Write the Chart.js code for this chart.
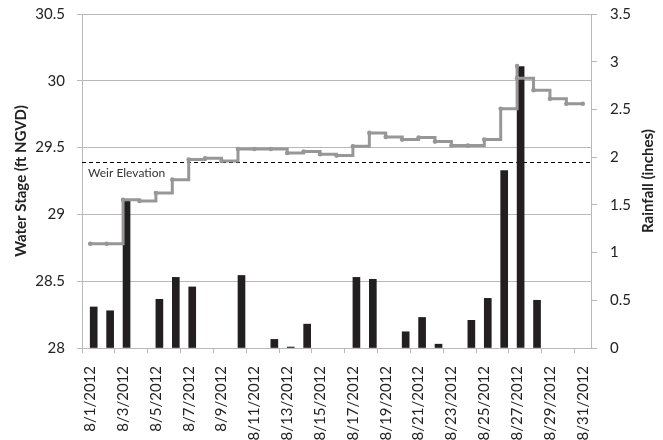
<!DOCTYPE html>
<html>
<head>
<meta charset="utf-8">
<script src="https://cdn.jsdelivr.net/npm/chart.js@4.4.1/dist/chart.umd.min.js"></script>
<style>
    html, body { margin: 0; padding: 0; background: #fff; }
    #wrap { width: 663px; height: 440px; }
</style>
</head>
<body>
<div id="wrap"><canvas id="stageRainChart"></canvas></div>
<script>
// categories: one per day
const dates = [];
for (let d = 1; d <= 31; d++) dates.push('8/' + d + '/2012');

// daily rainfall, inches (right axis)
const rainfall = [0.43, 0.39, 1.55, 0, 0.51, 0.74, 0.64, 0, 0, 0.76, 0, 0.09, 0.01, 0.25, 0, 0,
    0.74, 0.72, 0, 0.17, 0.32, 0.04, 0, 0.29, 0.52, 1.86, 2.95, 0.50, 0, 0, 0];

// water stage, ft NGVD (left axis); day index 0 = 8/1, 8/27 has two readings
const stageDay = [0, 1, 2, 3, 4, 5, 6, 7, 8, 9, 10, 11, 12, 13, 14, 15, 16, 17, 18, 19, 20,
    21, 22, 23, 24, 25, 26, 26, 27, 28, 29, 30];
const stageFt = [28.78, 28.78, 29.11, 29.10, 29.16, 29.26, 29.41, 29.42, 29.40, 29.49, 29.49,
    29.49, 29.46, 29.47, 29.45, 29.44, 29.51, 29.61, 29.58, 29.56, 29.575, 29.545, 29.515,
    29.515, 29.56, 29.79, 30.11, 30.02, 29.93, 29.865, 29.828, 29.828];

const weirElevation = 29.39;
const stageTicks = [28, 28.5, 29, 29.5, 30, 30.5];
const rainTicks = [0, 0.5, 1, 1.5, 2, 2.5, 3, 3.5];

const gridGray = '#b8b8b8';
const textColor = '#222';
const fontFamily = 'Lato, "Open Sans", sans-serif';

const weirAndTitles = {
    id: 'weirAndTitles',
    beforeDatasetsDraw(chart) {
        const {ctx, chartArea} = chart;
        const y = Math.round(chart.scales.y.getPixelForValue(weirElevation)) + 0.5;
        ctx.save();
        ctx.strokeStyle = '#000';
        ctx.lineWidth = 1;
        ctx.setLineDash([4, 3]);
        ctx.beginPath();
        ctx.moveTo(chartArea.left, y);
        ctx.lineTo(chartArea.right, y);
        ctx.stroke();
        ctx.setLineDash([]);
        ctx.fillStyle = '#333';
        ctx.font = '12px ' + fontFamily;
        ctx.textBaseline = 'middle';
        ctx.fillText('Weir Elevation', chartArea.left + 6, y + 11);
        ctx.restore();
    },
    afterDraw(chart) {
        const {ctx, chartArea} = chart;
        const midY = (chartArea.top + chartArea.bottom) / 2;
        [['Water Stage (ft NGVD)', 21], ['Rainfall (inches)', 648]].forEach(([text, x]) => {
            ctx.save();
            ctx.fillStyle = textColor;
            ctx.font = 'bold 15px ' + fontFamily;
            ctx.textAlign = 'center';
            ctx.textBaseline = 'middle';
            ctx.translate(x, midY);
            ctx.rotate(-Math.PI / 2);
            ctx.fillText(text, 0, 0);
            ctx.restore();
        });
    }
};

function fixVertical(width) {
    return s => {
        s.width = width;
        s.paddingTop = 0;
        s.paddingBottom = 0;
    };
}

new Chart(document.getElementById('stageRainChart'), {
    type: 'bar',
    data: {
        labels: dates,
        datasets: [
            {
                type: 'line',
                label: 'Water Stage',
                data: stageDay.map((d, i) => ({x: d, y: stageFt[i]})),
                xAxisID: 'xLine',
                yAxisID: 'y',
                stepped: true,
                borderColor: '#979797',
                backgroundColor: '#979797',
                borderWidth: 3,
                pointRadius: 2.3,
                pointBorderWidth: 0,
                order: 0
            },
            {
                label: 'Rainfall',
                data: rainfall.map(v => (v === 0 ? null : v)),
                xAxisID: 'x',
                yAxisID: 'yRain',
                backgroundColor: '#231f20',
                barThickness: 7,
                order: 1
            }
        ]
    },
    options: {
        responsive: true,
        maintainAspectRatio: false,
        animation: false,
        layout: {padding: {top: 14, left: 0, right: 0, bottom: 0}},
        plugins: {
            legend: {display: false},
            title: {display: false},
            tooltip: {enabled: false}
        },
        scales: {
            x: {
                type: 'category',
                offset: true,
                grid: {
                    offset: true,
                    drawOnChartArea: false,
                    tickLength: 5,
                    color: c => (c.index % 2 === 0 ? gridGray : 'rgba(0,0,0,0)')
                },
                border: {color: gridGray},
                ticks: {
                    autoSkip: false,
                    maxRotation: 90,
                    minRotation: 90,
                    padding: 13,
                    color: textColor,
                    font: {family: fontFamily, size: 15},
                    callback: (v, i) => (i % 2 === 0 ? dates[i] : '')
                },
                afterFit: s => {
                    s.height = 92;
                    s.paddingLeft = 0;
                    s.paddingRight = 0;
                }
            },
            xLine: {
                type: 'linear',
                display: false,
                offset: false,
                min: -0.5,
                max: 30.5
            },
            y: {
                position: 'left',
                min: 28,
                max: 30.5,
                afterBuildTicks: s => { s.ticks = stageTicks.map(v => ({value: v})); },
                grid: {color: gridGray, tickLength: 5},
                border: {color: gridGray},
                ticks: {
                    padding: 12,
                    color: textColor,
                    font: {family: fontFamily, size: 15},
                    callback: v => String(v)
                },
                afterFit: fixVertical(82)
            },
            yRain: {
                position: 'right',
                min: 0,
                max: 3.5,
                afterBuildTicks: s => { s.ticks = rainTicks.map(v => ({value: v})); },
                grid: {drawOnChartArea: false, color: gridGray, tickLength: 6},
                border: {color: gridGray},
                ticks: {
                    padding: 13,
                    color: textColor,
                    font: {family: fontFamily, size: 15},
                    callback: v => String(v)
                },
                afterFit: fixVertical(72)
            }
        }
    },
    plugins: [weirAndTitles]
});
</script>
</body>
</html>
